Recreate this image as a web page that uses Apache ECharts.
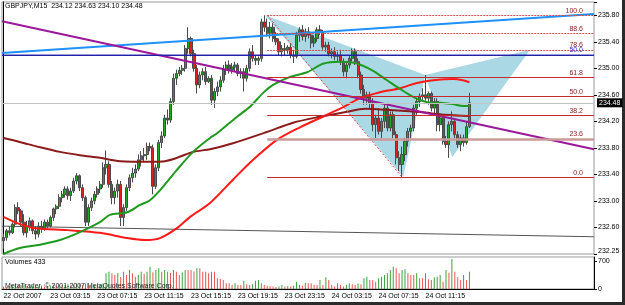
<!DOCTYPE html>
<html><head><meta charset="utf-8">
<script src="https://cdn.jsdelivr.net/npm/echarts@6/dist/echarts.min.js"></script>
<style>html,body{margin:0;padding:0;background:#fff}#c{width:625px;height:305px}</style>
</head><body><div id="c"></div>
<script>
const symbolName = 'GBPJPY,M15';
const timeLabels = ['22 Oct 2007','23 Oct 03:15','23 Oct 07:15','23 Oct 11:15','23 Oct 15:15','23 Oct 19:15','23 Oct 23:15','24 Oct 03:15','24 Oct 07:15','24 Oct 11:15'];
const barsPerLabel = 16;
const totalSlots = 202;
const priceTicks = [232.25,232.60,233.00,233.40,233.80,234.20,234.60,235.00,235.40,235.80];
const volTicks = [0,700];
// [open, high, low, close]
const ohlc = [
[232.40,232.50,232.28,232.45],[232.45,232.58,232.40,232.55],[232.55,232.62,232.48,232.52],[232.52,232.68,232.50,232.65],[232.65,232.95,232.60,232.90],
[232.90,232.98,232.80,232.85],[232.85,232.88,232.62,232.68],[232.68,232.80,232.48,232.52],[232.52,232.70,232.45,232.62],[232.62,232.75,232.55,232.70],
[232.70,232.72,232.50,232.55],[232.55,232.62,232.42,232.50],[232.50,232.68,232.45,232.62],[232.62,232.70,232.52,232.58],[232.58,232.72,232.55,232.68],
[232.68,232.72,232.58,232.62],[232.62,232.78,232.60,232.75],[232.75,232.90,232.70,232.88],[232.88,232.95,232.80,232.92],[232.92,233.10,232.88,233.05],
[233.05,233.15,232.98,233.10],[233.10,233.22,233.05,233.18],[233.18,233.22,233.02,233.08],[233.08,233.20,233.00,233.15],[233.15,233.35,233.12,233.30],
[233.30,233.42,233.25,233.38],[233.38,233.40,233.15,233.20],[233.20,233.25,233.00,233.05],[233.05,233.08,232.62,232.68],[232.68,232.95,232.62,232.90],
[232.90,233.05,232.85,233.00],[233.00,233.15,232.95,233.10],[233.10,233.22,233.05,233.18],[233.18,233.30,233.12,233.25],[233.25,233.58,233.20,233.50],
[233.50,233.76,233.40,233.55],[233.55,233.60,233.20,233.25],[233.25,233.30,232.95,233.05],[233.05,233.20,232.95,233.15],[233.15,233.32,233.05,233.25],
[233.25,233.30,232.62,232.75],[232.75,232.95,232.62,232.90],[232.90,233.25,232.85,233.20],[233.20,233.40,233.15,233.35],[233.35,233.50,233.28,233.42],
[233.42,233.55,233.35,233.48],[233.48,233.70,233.45,233.62],[233.62,233.75,233.52,233.68],[233.68,233.80,233.60,233.70],[233.70,233.88,233.62,233.82],
[233.82,233.88,233.75,233.80],[233.80,233.85,233.10,233.22],[233.22,233.55,233.18,233.50],[233.50,233.92,233.45,233.88],[233.88,234.05,233.80,233.98],
[233.98,234.30,233.95,234.25],[234.25,234.38,234.15,234.22],[234.22,234.55,234.18,234.50],[234.50,234.92,234.45,234.85],[234.85,234.98,234.75,234.92],
[234.92,235.02,234.88,234.97],[234.97,235.05,234.90,235.00],[235.00,235.35,234.95,235.30],[235.30,235.62,235.22,235.45],[235.45,235.48,235.18,235.22],
[235.22,235.28,234.95,235.00],[235.00,235.05,234.62,234.75],[234.75,234.95,234.70,234.90],[234.90,235.00,234.82,234.95],[234.95,235.02,234.75,234.80],
[234.80,234.88,234.78,234.85],[234.85,234.90,234.45,234.52],[234.52,234.70,234.40,234.65],[234.65,234.80,234.58,234.72],[234.72,234.88,234.65,234.82],
[234.82,235.05,234.78,234.98],[234.98,235.10,234.90,235.05],[235.05,235.12,234.92,234.98],[234.98,235.08,234.92,235.02],[235.02,235.10,234.95,235.05],
[235.05,235.08,234.88,234.92],[234.92,235.00,234.85,234.95],[234.95,235.00,234.65,234.85],[234.85,235.05,234.80,235.00],[235.00,235.30,234.95,235.25],
[235.25,235.35,235.10,235.15],[235.15,235.20,235.05,235.12],[235.12,235.18,235.05,235.15],[235.15,235.75,235.10,235.70],[235.70,235.80,235.55,235.62],
[235.62,235.75,235.48,235.52],[235.52,235.70,235.45,235.62],[235.62,235.68,235.40,235.45],[235.45,235.55,235.35,235.40],[235.40,235.45,235.20,235.25],
[235.25,235.35,235.18,235.30],[235.30,235.38,235.20,235.28],[235.28,235.35,235.22,235.32],[235.32,235.38,235.15,235.20],[235.20,235.28,235.08,235.18],
[235.18,235.55,235.15,235.50],[235.50,235.62,235.40,235.58],[235.58,235.65,235.42,235.48],[235.48,235.60,235.40,235.55],[235.55,235.62,235.45,235.50],
[235.50,235.55,235.30,235.38],[235.38,235.50,235.32,235.45],[235.45,235.62,235.40,235.58],[235.58,235.65,235.50,235.55],[235.55,235.58,235.28,235.32],
[235.32,235.40,235.25,235.35],[235.35,235.40,235.18,235.22],[235.22,235.30,235.15,235.25],[235.25,235.32,235.12,235.18],[235.18,235.25,235.10,235.20],
[235.20,235.28,235.05,235.10],[235.10,235.15,234.88,234.95],[234.95,235.10,234.85,235.05],[235.05,235.20,235.00,235.15],[235.15,235.30,235.10,235.25],
[235.25,235.30,235.05,235.10],[235.10,235.15,234.85,234.90],[234.90,234.95,234.62,234.68],[234.68,234.75,234.45,234.55],[234.55,234.65,234.45,234.60],
[234.60,234.65,234.40,234.48],[234.48,234.55,234.05,234.15],[234.15,234.30,233.95,234.25],[234.25,234.40,234.00,234.05],[234.05,234.25,233.95,234.20],
[234.20,234.45,234.10,234.40],[234.40,234.48,234.05,234.10],[234.10,234.35,234.05,234.30],[234.30,234.35,233.95,234.00],[234.00,234.05,233.55,233.65],
[233.65,233.75,233.45,233.55],[233.55,233.82,233.36,233.70],[233.70,233.95,233.60,233.90],[233.90,234.10,233.82,234.05],[234.05,234.15,233.95,234.10],
[234.10,234.45,234.05,234.40],[234.40,234.55,234.30,234.50],[234.50,234.62,234.42,234.58],[234.58,234.70,234.50,234.60],[234.60,234.90,234.50,234.55],
[234.55,234.65,234.45,234.62],[234.62,234.65,234.35,234.40],[234.40,234.55,234.30,234.50],[234.50,234.55,234.05,234.15],[234.15,234.30,234.05,234.25],
[234.25,234.30,233.85,233.90],[233.90,233.98,233.80,233.85],[233.85,234.20,233.65,234.15],[234.15,234.35,234.05,234.20],[234.20,234.25,233.95,234.00],
[234.00,234.05,233.80,233.85],[233.85,234.00,233.75,233.95],[233.95,234.00,233.82,233.88],[233.88,234.20,233.85,234.12],[234.12,234.63,234.10,234.48]
];
const volumes = [
60,45,70,85,110,95,100,120,75,80, 90,65,70,85,60,75,90,105,80,110,
95,100,120,85,115,140,125,100,140,95, 85,100,95,110,130,392,433,392,350,392,
300,433,350,475,392,308,350,433,380,433, 558,420,475,517,433,475,433,400,475,433,
350,420,475,475,475,440,517,517,433,433, 392,433,433,267,250,225,142,142,100,142,
100,100,208,117,100,117,208,225,142,100, 80,70,60,50,60,100,60,70,60,80,
183,100,90,158,142,142,100,100,225,100, 292,225,100,60,142,100,60,100,142,120,
100,140,120,267,308,225,225,183,267,308, 350,392,475,558,517,392,475,492,392,350,
350,392,267,267,392,242,225,292,308,350, 183,475,408,750,433,292,225,350,225,433
];
// moving averages [bar index, price]
const maGreen = [[0,232.20],[5.6,232.29],[12.5,232.34],[19.3,232.41],[26.1,232.53],[32.9,232.68],[36.3,232.79],[42.2,232.83],[46.6,232.94],[50,233.01],[53.4,233.16],[59.2,233.47],[64.7,233.74],[70.5,233.95],[72.9,234.02],[79.7,234.27],[84.1,234.42],[88.6,234.63],[92,234.75],[97.8,234.87],[103.6,234.94],[109,235.07],[114.8,235.10],[120,235.08],[125.8,234.97],[130.9,234.82],[135.3,234.69],[139.8,234.57],[144.5,234.49],[149,234.48],[153.4,234.46],[156.8,234.43],[159,234.43]];
const maRed = [[0,232.76],[5.6,232.65],[10.8,232.59],[21.7,232.56],[32.9,232.52],[42.2,232.44],[48.3,232.41],[53.4,232.44],[59.2,232.59],[63.7,232.76],[70.5,232.97],[78.3,233.32],[85.2,233.62],[93.3,233.92],[101.2,234.11],[110.4,234.30],[116.6,234.43],[121.7,234.55],[128.5,234.64],[135.3,234.70],[141.1,234.78],[146.6,234.82],[153.4,234.84],[156.8,234.82],[159,234.79]];
const maMaroon = [[0,233.95],[5.6,233.89],[12.5,233.81],[19.3,233.74],[26.1,233.69],[32.9,233.65],[39.8,233.60],[50,233.59],[55.1,233.60],[59.2,233.65],[64.7,233.74],[70.5,233.78],[78.3,233.87],[89.9,234.04],[98.8,234.18],[108,234.27],[116.6,234.34],[123.4,234.39],[131.9,234.37],[142.1,234.34],[150.7,234.30],[159,234.28]];
// drawn objects [bar index, price]
const trendBlue = [[-0.5,235.23],[201.5,235.82]];
const trendPurple = [[-0.5,235.71],[201.5,233.78]];
const trendGray = [[-0.5,232.62],[201.5,232.46]];
const levelNavy = [[-0.5,235.20],[201.5,235.20]];
const navyLabel = '50.0';
const fibAnchors = [[90,235.80],[136,233.36]];
const fibLevels = [0,23.6,38.2,50,61.8,78.6,88.6,100];
const fibRightEnd = 201.5;
const bflyPoints = [[89.3,235.80],[136.4,233.36],[143.9,234.90],[153.1,233.66],[179.7,235.28]];
const bflyTriangles = [[0,1,2],[2,3,4]];

const FONT = 'Liberation Sans';
const chart = echarts.init(document.getElementById('c'), null, {renderer:'canvas'});
const cats = Array.from({length: totalSlots}, (_, i) => String(i));
const candleData = ohlc.map(r => [r[0], r[3], r[2], r[1]]);
const last = ohlc[ohlc.length - 1];
const volColors = volumes.map((v, i) => (i === 0 || v > volumes[i - 1]) ? '#3aa43a' : '#ea5454');
const fibHi = fibAnchors[0][1], fibLo = fibAnchors[1][1];
const fibLines = fibLevels.map(l => {
  const p = fibLo + (fibHi - fibLo) * l / 100;
  const dotted = l >= 78;
  const thick = l === 23.6;
  const style = {color: thick ? '#cc9999' : (dotted ? '#d05050' : '#c62a2a'), width: thick ? 2.5 : 1, type: dotted ? [2, 1] : 'solid', opacity: 1};
  return [{coord: [fibAnchors[0][0], p], lineStyle: style, label: {formatter: l.toFixed(1)}},
          {coord: [fibRightEnd, p], lineStyle: style}];
});
const labelFn = (i) => i % barsPerLabel === 0 && i / barsPerLabel < timeLabels.length;

const option = {
  animation: false,
  backgroundColor: '#fff',
  textStyle: {fontFamily: FONT},
  title: [
    {text: `${symbolName}  ${last.map(v => v.toFixed(2)).join(' ')}`, left: 5, top: 3, padding: 0,
     textStyle: {fontSize: 7, fontWeight: 'normal', color: '#000', fontFamily: FONT}},
    {text: `Volumes ${volumes[volumes.length - 1]}`, left: 5, top: 259, padding: 0,
     textStyle: {fontSize: 7, fontWeight: 'normal', color: '#000', fontFamily: FONT}},
    {text: 'MetaTrader, © 2001-2007 MetaQuotes Software Corp.', left: 5, top: 283, padding: 0,
     textStyle: {fontSize: 7, fontWeight: 'normal', color: '#222', fontFamily: FONT}}
  ],
  grid: [
    {left: 2, right: 31, top: 2, height: 252, show: true, borderColor: '#9a9a9a', borderWidth: 1},
    {left: 2, right: 31, top: 257, height: 32, show: true, borderColor: '#9a9a9a', borderWidth: 1}
  ],
  xAxis: [
    {type: 'category', gridIndex: 0, data: cats, show: false, boundaryGap: true},
    {type: 'value', gridIndex: 0, min: -0.5, max: totalSlots - 0.5, show: false},
    {type: 'category', gridIndex: 1, data: cats, boundaryGap: true,
     axisLine: {lineStyle: {color: '#000', width: 1}},
     axisTick: {alignWithLabel: true, interval: labelFn, length: 4, lineStyle: {color: '#000'}},
     axisLabel: {interval: labelFn, formatter: (v, i) => timeLabels[Math.round(i / barsPerLabel)] || '',
                 align: 'left', fontSize: 7, color: '#000', margin: 4, fontFamily: FONT},
     splitLine: {show: false}}
  ],
  yAxis: [
    {type: 'value', gridIndex: 0, position: 'right', min: 232.2, max: 236.0, interval: 0.05,
     axisLine: {show: true, lineStyle: {color: '#000'}}, axisTick: {show: false}, splitLine: {show: false},
     axisLabel: {fontSize: 7, color: '#000', margin: 4, fontFamily: FONT,
       formatter: v => priceTicks.some(t => Math.round(t * 100) === Math.round(v * 100)) ? v.toFixed(2) : ''}},
    {type: 'value', gridIndex: 0, position: 'right', min: 232.2, max: 236.0, interval: 0.4,
     axisLine: {show: false}, axisLabel: {show: false}, splitLine: {show: false},
     axisTick: {show: true, length: 3, lineStyle: {color: '#000'}}},
    {type: 'value', gridIndex: 1, position: 'right', min: 0, max: 800, interval: volTicks[1] - volTicks[0],
     axisLine: {show: true, lineStyle: {color: '#000'}}, splitLine: {show: false},
     axisTick: {show: true, length: 3, lineStyle: {color: '#000'}},
     axisLabel: {fontSize: 7, color: '#000', margin: 4, fontFamily: FONT}}
  ],
  series: [
    {type: 'custom', xAxisIndex: 1, yAxisIndex: 0, z: 1, silent: true,
     data: bflyTriangles.map(t => bflyPoints[t[0]]), encode: {x: 0, y: 1},
     renderItem: (params, api) => {
       const tri = bflyTriangles[params.dataIndex];
       return {type: 'polygon', shape: {points: tri.map(k => api.coord(bflyPoints[k]))},
               style: {fill: '#aad8e4'}};
     }},
    {type: 'candlestick', xAxisIndex: 0, yAxisIndex: 0, z: 2, data: candleData, barWidth: 2.6,
     itemStyle: {color: '#22a822', color0: '#dd2020', borderColor: '#4a4a4a', borderColor0: '#4a4a4a', borderWidth: 1},
     markLine: {silent: true, symbol: ['none', 'none'], animation: false,
       data: [{yAxis: last[3], lineStyle: {color: '#c4c4c4', width: 1, type: 'solid'},
               label: {show: true, position: 'end', distance: 3, formatter: last[3].toFixed(2), color: '#fff',
                       backgroundColor: '#000', padding: [1, 2, 1, 2], fontSize: 7, fontFamily: FONT}}]}},
    {type: 'line', xAxisIndex: 1, yAxisIndex: 0, z: 3, data: trendGray, symbol: 'none',
     lineStyle: {color: '#555', width: 1}},
    {type: 'line', xAxisIndex: 1, yAxisIndex: 0, z: 3, data: maMaroon, symbol: 'none', smooth: 0.3,
     lineStyle: {color: '#8b1a1a', width: 2}},
    {type: 'line', xAxisIndex: 1, yAxisIndex: 0, z: 3, data: maRed, symbol: 'none', smooth: 0.3,
     lineStyle: {color: '#ff1a1a', width: 2}},
    {type: 'line', xAxisIndex: 1, yAxisIndex: 0, z: 3, data: maGreen, symbol: 'none', smooth: 0.3,
     lineStyle: {color: '#1f9a1f', width: 2}},
    {type: 'line', xAxisIndex: 1, yAxisIndex: 0, z: 4, data: fibAnchors, symbol: 'none', color: '#c62a2a',
     lineStyle: {color: '#e04040', width: 1, type: [2, 2]},
     markLine: {silent: true, symbol: ['none', 'none'], animation: false,
       lineStyle: {color: '#c62a2a', width: 1, type: 'solid'},
       label: {show: true, position: 'insideEndTop', distance: [11, 1], color: '#8b2020', fontSize: 7, fontFamily: FONT},
       data: fibLines}},
    {type: 'line', xAxisIndex: 1, yAxisIndex: 0, z: 4, data: levelNavy, symbol: 'none',
     lineStyle: {color: '#2020a8', width: 1},
     markLine: {silent: true, symbol: ['none', 'none'], animation: false,
       label: {show: true, position: 'insideEndTop', distance: [11, 1], color: '#3030d0', fontSize: 7, fontFamily: FONT},
       lineStyle: {color: '#2020a8', width: 1, type: 'solid'},
       data: [[{coord: levelNavy[0], label: {formatter: navyLabel}}, {coord: levelNavy[1]}]]}},
    {type: 'line', xAxisIndex: 1, yAxisIndex: 0, z: 4, data: trendBlue, symbol: 'none',
     lineStyle: {color: '#1e90ff', width: 2}},
    {type: 'line', xAxisIndex: 1, yAxisIndex: 0, z: 4, data: trendPurple, symbol: 'none',
     lineStyle: {color: '#9b189b', width: 2}},
    {type: 'bar', xAxisIndex: 2, yAxisIndex: 2, data: volumes, barWidth: 1,
     itemStyle: {color: p => volColors[p.dataIndex]}}
  ],
  graphic: [
    {type: 'rect', shape: {x: 622, y: 0, width: 3, height: 305}, style: {fill: '#2b2b2b'}, silent: true},
    {type: 'rect', shape: {x: 0, y: 302, width: 625, height: 3}, style: {fill: '#2b2b2b'}, silent: true}
  ]
};
chart.setOption(option);
</script></body></html>
